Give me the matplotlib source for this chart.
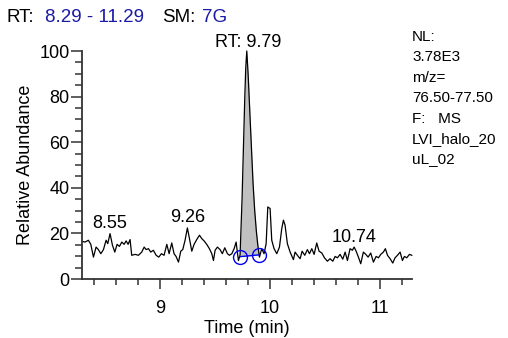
import matplotlib.pyplot as plt
import numpy as np
from matplotlib.ticker import MultipleLocator

plt.rcParams['font.family'] = ['Liberation Sans', 'DejaVu Sans']

# chromatogram trace (time in min, relative abundance in %)
time_min = [
    8.291, 8.318, 8.348, 8.370, 8.394, 8.418, 8.439, 8.461, 8.485, 8.509,
    8.524, 8.545, 8.567, 8.588, 8.609, 8.630, 8.652, 8.673, 8.691, 8.709,
    8.727, 8.742, 8.773, 8.803, 8.833, 8.855, 8.873, 8.894, 8.915, 8.939,
    8.964, 8.988, 9.012, 9.036, 9.061, 9.082, 9.106, 9.127, 9.145, 9.167,
    9.188, 9.206, 9.227, 9.248, 9.267, 9.288, 9.309, 9.333, 9.358, 9.379,
    9.400, 9.424, 9.448, 9.470, 9.485, 9.500, 9.521, 9.545, 9.566, 9.588,
    9.612, 9.630, 9.652, 9.673, 9.691, 9.712, 9.727,
    9.745, 9.758, 9.770, 9.779, 9.788, 9.800, 9.815, 9.830, 9.845, 9.860,
    9.875, 9.888, 9.903,
    9.924, 9.945, 9.964, 9.979, 10.000, 10.015, 10.036, 10.061, 10.085, 10.106,
    10.121, 10.136, 10.157, 10.182, 10.212, 10.227, 10.248, 10.273, 10.291, 10.315,
    10.339, 10.358, 10.379, 10.400, 10.424, 10.445, 10.470, 10.494, 10.521, 10.545,
    10.570, 10.591, 10.612, 10.636, 10.661, 10.682, 10.703, 10.727, 10.748, 10.764,
    10.782, 10.803, 10.824, 10.848, 10.870, 10.891, 10.915, 10.939, 10.964, 10.985,
    11.006, 11.030, 11.048, 11.067, 11.091, 11.115, 11.136, 11.158, 11.182, 11.203,
    11.221, 11.242, 11.267, 11.288,
]
rel_abund = [
    16.5, 16.2, 17.0, 15.2, 9.6, 14.0, 12.9, 11.1, 12.9, 17.0,
    15.5, 19.9, 14.8, 11.8, 15.2, 14.3, 16.2, 15.2, 16.7, 15.2,
    17.3, 10.4, 10.8, 10.4, 11.8, 14.0, 12.9, 13.3, 11.8, 12.6,
    10.4, 9.6, 11.1, 10.4, 15.2, 11.1, 15.8, 11.1, 9.9, 7.4,
    12.2, 12.9, 17.0, 22.4, 17.7, 12.2, 15.2, 17.3, 19.2, 17.7,
    16.7, 15.2, 13.3, 11.1, 8.1, 12.6, 14.0, 12.9, 11.1, 13.7,
    11.1, 10.4, 11.1, 13.3, 16.2, 8.1, 10.5,
    35.0, 58.0, 80.0, 93.0, 100.0, 90.0, 74.0, 57.0, 42.0, 30.0,
    21.0, 15.0, 9.6,
    13.3, 11.1, 15.5, 31.6, 30.9, 17.0, 13.3, 11.1, 14.0, 22.1,
    25.8, 23.6, 15.5, 11.8, 8.5, 11.8, 10.4, 8.9, 12.2, 10.4,
    12.9, 11.1, 13.3, 10.8, 15.8, 12.2, 11.4, 9.3, 7.8, 8.9,
    7.8, 9.9, 9.3, 10.8, 8.7, 11.8, 8.1, 13.3, 12.6, 14.0,
    12.2, 9.6, 6.7, 11.8, 10.8, 9.6, 11.4, 7.4, 9.9, 9.3,
    10.8, 11.8, 13.3, 10.4, 8.9, 7.0, 9.3, 10.4, 11.8, 8.1,
    9.9, 9.3, 10.8, 10.4,
]

# integrated peak and its baseline
peak_start, peak_end = 9.727, 9.903
base_start, base_end = 9.8, 10.6

# labelled peaks
label_times = [8.545, 9.248, 10.764]
label_texts = ['8.55', '9.26', '10.74']

# header and side info
header_parts = ['RT:', '8.29 - 11.29', 'SM:', '7G']
info_lines = ['NL:', '3.78E3', 'm/z=', '76.50-77.50', 'F:   MS', 'LVI_halo_20', 'uL_02']

t = np.array(time_min)
y = np.array(rel_abund)

W, H = 508, 338
fig = plt.figure(figsize=(W / 100, H / 100), dpi=100)
ax = fig.add_axes([82 / W, 1 - 279 / H, 330 / W, 228 / H])

blue = '#0000ee'
fs = 13

# shaded peak area
m = (t >= peak_start - 1e-6) & (t <= peak_end + 1e-6)
base = np.interp(t[m], [peak_start, peak_end], [base_start, base_end])
ax.fill_between(t[m], y[m], base, color='#c0c0c0', lw=0)

ax.plot(t, y, color='black', lw=0.9, clip_on=False)

ax.plot([peak_start, peak_end], [base_start, base_end], color=blue, lw=1,
        marker='o', ms=10, mfc='none', mec=blue, mew=1)

# peak labels
for pt, lab in zip(label_times, label_texts):
    i = np.argmin(np.abs(t - pt))
    ax.annotate(lab, (t[i], y[i]), xytext=(0, 4), textcoords='offset points',
                ha='center', va='baseline', fontsize=fs)
imax = np.argmax(y)
ax.annotate('RT: %.2f' % t[imax], (t[imax], y[imax]), xytext=(1, 3),
            textcoords='offset points', ha='center', va='baseline', fontsize=fs,
            annotation_clip=False)

ax.set_xlim(8.29, 11.29)
ax.set_ylim(0, 100)
ax.xaxis.set_major_locator(MultipleLocator(1))
ax.xaxis.set_minor_locator(MultipleLocator(0.2))
ax.yaxis.set_major_locator(MultipleLocator(20))
ax.yaxis.set_minor_locator(MultipleLocator(5))
ax.tick_params(axis='x', which='major', length=7, width=1.1, pad=8, labelsize=fs)
ax.tick_params(axis='x', which='minor', length=4, width=1.1)
ax.tick_params(axis='y', which='major', length=8, width=1.1, pad=1, labelsize=fs)
ax.tick_params(axis='y', which='minor', length=5, width=1.1)
for s in ['top', 'right']:
    ax.spines[s].set_visible(False)
for s in ['left', 'bottom']:
    ax.spines[s].set_linewidth(1.3)
    ax.spines[s].set_color('#333333')
ax.tick_params(which='both', color='#333333')

ax.set_xlabel('Time (min)', fontsize=fs, labelpad=2)
ax.set_ylabel('Relative Abundance', fontsize=fs, labelpad=4)

# header line, pieces placed at their pixel x positions
head_x = [7, 45, 162, 202]
head_col = ['black', '#1a1aa6', 'black', '#1a1aa6']
for hx, txt, c in zip(head_x, header_parts, head_col):
    fig.text(hx / W, 1 - 22 / H, txt, fontsize=13.5, color=c, va='baseline')

# info column on the right
for k, line in enumerate(info_lines):
    fig.text(412 / W, 1 - (41 + 20.4 * k) / H, line, fontsize=11,
             va='baseline', ha='left')

fig.savefig('out.png', dpi=100)
